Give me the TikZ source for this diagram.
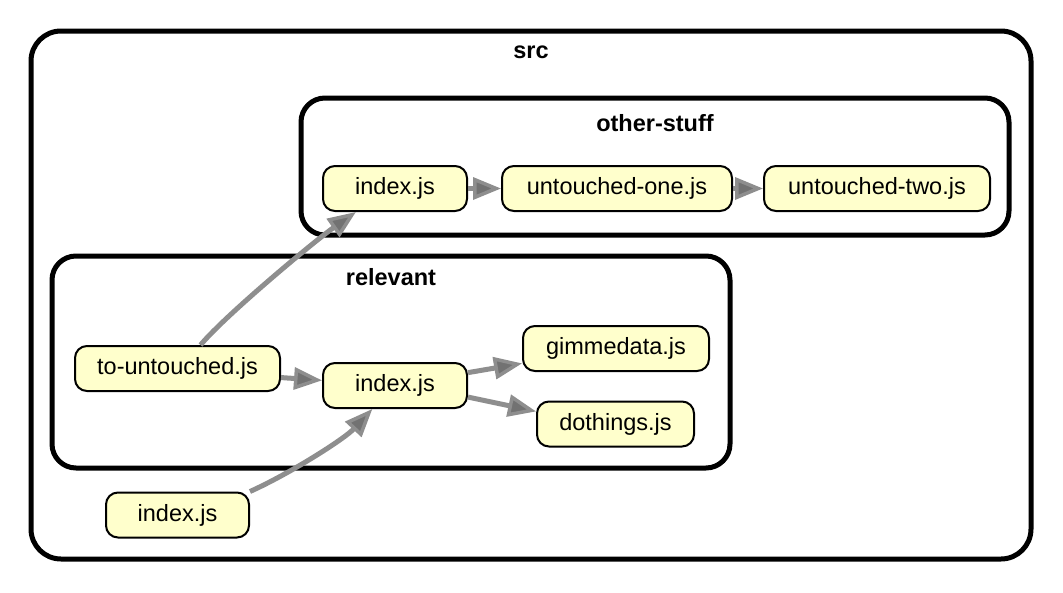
\documentclass[tikz,border=0pt]{standalone}
\usepackage{fontspec}
\setmainfont{Liberation Sans}
\usetikzlibrary{arrows.meta}
\definecolor{nodefill}{HTML}{FFFFCC}
\definecolor{edgecol}{HTML}{8E8E8E}
\definecolor{headfill}{HTML}{727272}
\begin{document}
\begin{tikzpicture}[x=1pt,y=-1pt,
  file/.style={draw=black, line width=2pt, fill=nodefill, rounded corners=12pt,
    minimum height=45pt, inner sep=0pt, font=\fontsize{23.5}{28}\selectfont},
  cluster/.style={draw=black, line width=5pt, rounded corners=#1, inner sep=0pt},
  clabel/.style={font=\fontsize{23.5}{28}\selectfont\bfseries, inner sep=0pt},
  dep/.style={draw=edgecol, line width=5pt,
    -{Triangle[length=28pt 0,width=22pt 0,fill=headfill,line width=3.5pt]}},
]
\useasboundingbox (0,0) rectangle (1063,592);
% clusters
\node[cluster=30pt, minimum width=1000pt, minimum height=528pt] (src) at (531,295) {};
\node[clabel] (srclab) at (531,52) {src};
\node[cluster=24pt, minimum width=708pt, minimum height=137pt] (other) at (655,166.5) {};
\node[clabel] (otherlab) at (655,123) {other-stuff};
\node[cluster=24pt, minimum width=678pt, minimum height=212pt] (relevant) at (391,362) {};
\node[clabel] (rellab) at (391,277) {relevant};
% files
\node[file, minimum width=144pt] (osi) at (395,188.5) {index.js};
\node[file, minimum width=230pt] (uo) at (617,188.5) {untouched-one.js};
\node[file, minimum width=226pt] (ut) at (877,188.5) {untouched-two.js};
\node[file, minimum width=205pt] (tou) at (177.5,368.5) {to-untouched.js};
\node[file, minimum width=144pt] (ridx) at (395,385.5) {index.js};
\node[file, minimum width=186pt] (gim) at (616,348.5) {gimmedata.js};
\node[file, minimum width=157pt] (dot) at (615.5,424) {dothings.js};
\node[file, minimum width=143pt] (sidx) at (177.5,515) {index.js};
% edges
\draw[dep] (osi.east) -- (uo.west);
\draw[dep] (uo.east) -- (ut.west);
\draw[dep] (tou.-5) -- (ridx.176);
\draw[dep] (ridx.10) -- (gim.189);
\draw[dep] (ridx.-9) -- (dot.171);
\draw[dep] ([xshift=23pt]tou.north) .. controls +(25,-30) and +(-40,28) .. (osi.211);
\draw[dep] (sidx.north east) .. controls +(40,-18) and +(-28,30) .. (ridx.226);
\end{tikzpicture}
\end{document}
